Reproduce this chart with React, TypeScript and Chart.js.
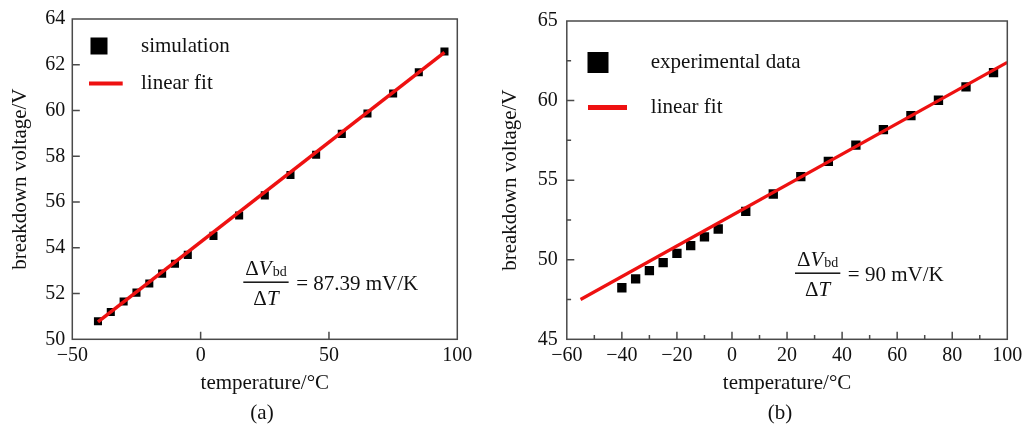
import React, { useEffect, useRef } from 'react';
import { Chart, registerables } from 'chart.js';

Chart.register(...registerables);

const FONT = "'Liberation Serif', 'Times New Roman', serif";

// ---- Panel (a): simulation ----
const simTemps = [-40, -35, -30, -25, -20, -15, -10, -5, 5, 15, 25, 35, 45, 55, 65, 75, 85, 95];
const simVoltages = [50.79, 51.19, 51.65, 52.04, 52.44, 52.87, 53.3, 53.69, 54.52, 55.41, 56.29, 57.18, 58.07, 58.98, 59.87, 60.74, 61.67, 62.58];
const simFitTemps = [-40, 95];
const simFitVoltages = [50.76, 62.54];
const xTicksA = [-50, 0, 50, 100];
const yTicksA = [50, 52, 54, 56, 58, 60, 62, 64];
const xMinorA: number[] = [];
const yMinorA: number[] = [];

// ---- Panel (b): experimental ----
const expTemps = [-40, -35, -30, -25, -20, -15, -10, -5, 5, 15, 25, 35, 45, 55, 65, 75, 85, 95];
const expVoltages = [48.24, 48.8, 49.31, 49.82, 50.4, 50.89, 51.44, 51.93, 53.04, 54.13, 55.22, 56.18, 57.2, 58.17, 59.05, 60.02, 60.86, 61.76];
const expFitTemps = [-55, 100];
const expFitVoltages = [47.5, 62.4];
const xTicksB = [-60, -40, -20, 0, 20, 40, 60, 80, 100];
const yTicksB = [45, 50, 55, 60, 65];
const xMinorB = [-50, -30, -10, 10, 30, 50, 70, 90];
const yMinorB = [47.5, 52.5, 57.5, 62.5];

type Panel = {
  width: number;
  scatterLabel: string;
  xs: number[];
  ys: number[];
  fitXs: number[];
  fitYs: number[];
  xMin: number; xMax: number; yMin: number; yMax: number;
  xTicks: number[]; yTicks: number[]; xMinor: number[]; yMinor: number[];
  pointRadius: number;
  fitWidth: number;
  padTop: number; padRight: number;
  yAxisWidth: number; xAxisHeight: number;
  yTickPad: number;
  yTitlePad: number; yTitleLH: number;
  legend: { sqDx: number; sqDy: number; sq: number; txtDx: number; lnX0: number; lnX1: number; lnDy: number; lnW: number };
  annot: { dx: number; dy: number; value: string };
  caption: string; captionX: number;
};

const fmt = (v: number | string) => {
  const n = Number(v);
  return n < 0 ? '\u2212' + Math.abs(n) : String(n);
};

function drawFraction(ctx: CanvasRenderingContext2D, x0: number, yLine: number, value: string) {
  const big = `21px ${FONT}`;
  const it = `italic 21px ${FONT}`;
  const sub = `14px ${FONT}`;
  ctx.fillStyle = '#111';
  ctx.textAlign = 'left';
  ctx.textBaseline = 'alphabetic';
  ctx.font = big;
  const wD = ctx.measureText('\u0394').width;
  ctx.font = it;
  const wV = ctx.measureText('V').width;
  const wT = ctx.measureText('T').width;
  ctx.font = sub;
  const wbd = ctx.measureText('bd').width;
  const numW = wD + wV + 1 + wbd;
  const lineW = numW + 4;
  const nx = x0 + 2;
  const nBase = yLine - 7;
  ctx.font = big;
  ctx.fillText('\u0394', nx, nBase);
  ctx.font = it;
  ctx.fillText('V', nx + wD, nBase);
  ctx.font = sub;
  ctx.fillText('bd', nx + wD + wV + 1, nBase + 1);
  ctx.fillRect(x0, yLine - 0.75, lineW, 1.5);
  const denW = wD + wT;
  const dx = x0 + (lineW - denW) / 2;
  const dBase = yLine + 23;
  ctx.font = big;
  ctx.fillText('\u0394', dx, dBase);
  ctx.font = it;
  ctx.fillText('T', dx + wD, dBase);
  ctx.font = big;
  ctx.textBaseline = 'middle';
  ctx.fillText(value, x0 + lineW + 7.5, yLine + 2.5);
}

function makeDecor(p: Panel) {
  return {
    id: 'decor',
    afterDatasetsDraw(chart: any) {
      const { ctx, chartArea: a, scales } = chart;
      const xs = scales.x, ys = scales.y;
      ctx.save();
      ctx.strokeStyle = '#4a4a4a';
      ctx.lineWidth = 1.5;
      ctx.lineCap = 'butt';
      ctx.beginPath();
      const tick = (vals: number[], len: number) => {
        vals.forEach((v) => {
          const px = xs.getPixelForValue(v);
          if (px <= a.left + 1 || px >= a.right - 1) return;
          ctx.moveTo(px, a.bottom);
          ctx.lineTo(px, a.bottom - len);
        });
      };
      const tickY = (vals: number[], len: number) => {
        vals.forEach((v) => {
          const py = ys.getPixelForValue(v);
          if (py <= a.top + 1 || py >= a.bottom - 1) return;
          ctx.moveTo(a.left, py);
          ctx.lineTo(a.left + len, py);
        });
      };
      tick(p.xTicks, 7.5);
      tick(p.xMinor, 4.3);
      tickY(p.yTicks, 7.5);
      tickY(p.yMinor, 4.3);
      ctx.stroke();
      ctx.strokeRect(a.left, a.top, a.right - a.left, a.bottom - a.top);
      ctx.restore();
    },
    afterDraw(chart: any) {
      const { ctx, chartArea: a } = chart;
      ctx.save();
      const L = p.legend;
      ctx.fillStyle = '#000';
      ctx.fillRect(a.left + L.sqDx - L.sq / 2, a.top + L.sqDy - L.sq / 2, L.sq, L.sq);
      ctx.fillStyle = '#ee1111';
      ctx.fillRect(a.left + L.lnX0, a.top + L.lnDy - L.lnW / 2, L.lnX1 - L.lnX0, L.lnW);
      ctx.fillStyle = '#111';
      ctx.font = `21px ${FONT}`;
      ctx.textAlign = 'left';
      ctx.textBaseline = 'middle';
      ctx.fillText(p.scatterLabel, a.left + L.txtDx, a.top + L.sqDy);
      ctx.fillText('linear fit', a.left + L.txtDx, a.top + L.lnDy);
      drawFraction(ctx, a.left + p.annot.dx, a.top + p.annot.dy, p.annot.value);
      ctx.fillStyle = '#111';
      ctx.font = `21px ${FONT}`;
      ctx.textAlign = 'center';
      ctx.textBaseline = 'middle';
      ctx.fillText(p.caption, p.captionX, 413);
      ctx.restore();
    },
  };
}

function buildConfig(p: Panel): any {
  return {
    type: 'scatter',
    data: {
      datasets: [
        {
          label: 'linear fit',
          data: p.fitXs.map((x, i) => ({ x, y: p.fitYs[i] })),
          showLine: true,
          borderColor: '#ee1111',
          borderWidth: p.fitWidth,
          pointRadius: 0,
          order: 0,
        },
        {
          label: p.scatterLabel,
          data: p.xs.map((x, i) => ({ x, y: p.ys[i] })),
          pointStyle: 'rect',
          pointRadius: p.pointRadius,
          pointBackgroundColor: '#000',
          pointBorderWidth: 0,
          showLine: false,
          order: 1,
        },
      ],
    },
    options: {
      responsive: false,
      animation: false,
      devicePixelRatio: 1,
      layout: { padding: { left: 0, top: p.padTop, right: p.padRight, bottom: 0 } },
      plugins: { legend: { display: false }, tooltip: { enabled: false } },
      scales: {
        x: {
          type: 'linear',
          min: p.xMin,
          max: p.xMax,
          afterBuildTicks: (s: any) => { s.ticks = p.xTicks.map((v) => ({ value: v })); },
          afterFit: (s: any) => { s.height = p.xAxisHeight; },
          grid: { display: false, drawTicks: false },
          border: { display: false },
          ticks: { font: { family: FONT, size: 20 }, color: '#111', padding: 4.7, maxRotation: 0, autoSkip: false, callback: fmt },
          title: { display: true, text: 'temperature/\u00B0C', color: '#111', font: { family: FONT, size: 21 }, padding: { top: 0, bottom: 32 } },
        },
        y: {
          type: 'linear',
          min: p.yMin,
          max: p.yMax,
          afterBuildTicks: (s: any) => { s.ticks = p.yTicks.map((v) => ({ value: v })); },
          afterFit: (s: any) => { s.width = p.yAxisWidth; },
          grid: { display: false, drawTicks: false },
          border: { display: false },
          ticks: { font: { family: FONT, size: 20 }, color: '#111', padding: p.yTickPad, autoSkip: false, callback: fmt },
          title: { display: true, text: 'breakdown voltage/V', color: '#111', font: { family: FONT, size: 21, lineHeight: p.yTitleLH }, padding: { top: p.yTitlePad, bottom: 0 } },
        },
      },
    },
    plugins: [makeDecor(p)],
  };
}

const panelA: Panel = {
  width: 500,
  scatterLabel: 'simulation',
  xs: simTemps, ys: simVoltages, fitXs: simFitTemps, fitYs: simFitVoltages,
  xMin: -50, xMax: 100, yMin: 50, yMax: 64,
  xTicks: xTicksA, yTicks: yTicksA, xMinor: xMinorA, yMinor: yMinorA,
  pointRadius: 5.7, fitWidth: 3.5,
  padTop: 14.5, padRight: 42.7, yAxisWidth: 72.3, xAxisHeight: 88.7,
  yTickPad: 7, yTitlePad: 8, yTitleLH: 1.2,
  legend: { sqDx: 26.7, sqDy: 27, sq: 17, txtDx: 68.7, lnX0: 16.7, lnX1: 50.4, lnDy: 64.5, lnW: 4 },
  annot: { dx: 171, dy: 263.2, value: '= 87.39 mV/K' },
  caption: '(a)', captionX: 262,
};

const panelB: Panel = {
  width: 527,
  scatterLabel: 'experimental data',
  xs: expTemps, ys: expVoltages, fitXs: expFitTemps, fitYs: expFitVoltages,
  xMin: -60, xMax: 100, yMin: 45, yMax: 65,
  xTicks: xTicksB, yTicks: yTicksB, xMinor: xMinorB, yMinor: yMinorB,
  pointRadius: 6.6, fitWidth: 3.2,
  padTop: 14.5, padRight: 19, yAxisWidth: 66.8, xAxisHeight: 88.7,
  yTickPad: 9, yTitlePad: 0, yTitleLH: 1,
  legend: { sqDx: 31.2, sqDy: 41.5, sq: 21, txtDx: 84, lnX0: 21.2, lnX1: 60.2, lnDy: 86.5, lnW: 5 },
  annot: { dx: 228.2, dy: 252.2, value: '= 90 mV/K' },
  caption: '(b)', captionX: 280,
};

function ChartPanel({ panel, left }: { panel: Panel; left: number }) {
  const ref = useRef<HTMLCanvasElement | null>(null);
  useEffect(() => {
    if (!ref.current) return;
    const chart = new Chart(ref.current, buildConfig(panel));
    return () => chart.destroy();
  }, [panel]);
  return (
    <canvas
      ref={ref}
      width={panel.width}
      height={428}
      style={{ position: 'absolute', left, top: 0, width: panel.width, height: 428 }}
    />
  );
}

export default function App() {
  return (
    <div style={{ position: 'absolute', left: 0, top: 0, width: 1027, height: 428, background: '#fff', overflow: 'hidden' }}>
      <ChartPanel panel={panelA} left={0} />
      <ChartPanel panel={panelB} left={500} />
    </div>
  );
}
